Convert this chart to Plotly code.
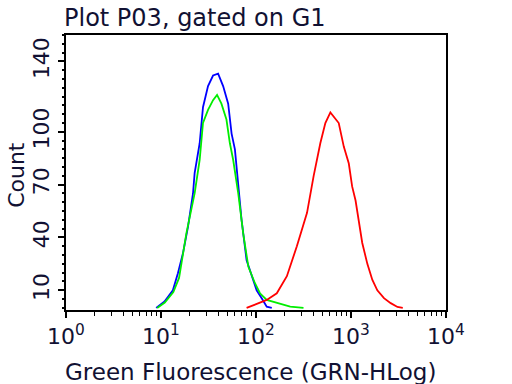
import plotly.graph_objects as go

# Blue histogram (log10 of fluorescence, count)
blue_log = [0.949, 1.037, 1.125, 1.178, 1.231, 1.284, 1.337, 1.354, 1.407, 1.442, 1.495, 1.548,
            1.601, 1.654, 1.707, 1.743, 1.778, 1.813, 1.848, 1.901, 1.954, 2.007, 2.06, 2.113, 2.166]
blue_cnt = [0, 3.6, 10, 19.7, 31, 46, 65, 76.5, 93.5, 114, 126, 132,
            133, 126, 116, 99, 90, 69, 50, 27, 18, 10, 5.5, 0.7, 0]

# Green histogram
green_log = [0.96, 1.04, 1.13, 1.19, 1.266, 1.354, 1.407, 1.442, 1.495, 1.548, 1.59, 1.636, 1.689,
             1.725, 1.76, 1.813, 1.866, 1.919, 1.989, 2.042, 2.113, 2.219, 2.36, 2.5]
green_cnt = [0, 3, 9, 17, 42, 65, 84, 105, 112.5, 118, 121, 116, 107,
             93.5, 84, 65, 42, 23.5, 14, 8.3, 4.5, 2.7, 0.7, 0]

# Red histogram
red_log = [1.901, 1.99, 2.113, 2.219, 2.325, 2.43, 2.537, 2.607, 2.677, 2.73, 2.783, 2.871, 2.924,
           2.977, 3.012, 3.048, 3.083, 3.118, 3.172, 3.224, 3.277, 3.347, 3.418, 3.489, 3.545]
red_cnt = [0, 1.7, 4.5, 8.3, 18, 35, 54, 75, 93.5, 105, 111, 105, 91.6,
           82, 69, 61, 48, 37, 25, 16, 10, 5.5, 2.7, 0.5, 0]

x_tick_vals = [1, 10, 100, 1000, 10000]
x_tick_text = ["10<sup>0</sup>", "10<sup>1</sup>", "10<sup>2</sup>", "10<sup>3</sup>", "10<sup>4</sup>"]
y_tick_vals = [10, 40, 70, 100, 140]
y_tick_text = ["10", "40", "70", "100", "140"]

series = [
    ("blue", blue_log, blue_cnt, "#0000ff"),
    ("green", green_log, green_cnt, "#00ee00"),
    ("red", red_log, red_cnt, "#ff0000"),
]

fig = go.Figure()
for name, lx, cnt, col in series:
    fig.add_trace(go.Scatter(
        x=[10 ** v for v in lx], y=cnt, mode="lines", name=name,
        line=dict(color=col, width=1.8), showlegend=False,
    ))

minor_x = [m * 10 ** k for k in range(0, 4) for m in range(2, 10)]

fig.update_layout(
    width=512, height=384,
    margin=dict(l=66, r=66, t=35, b=74),
    paper_bgcolor="white", plot_bgcolor="white",
    font=dict(family="DejaVu Sans", color="#111133"),
    xaxis=dict(
        type="log", range=[0, 4],
        tickmode="array", tickvals=x_tick_vals, ticktext=x_tick_text,
        ticks="outside", ticklen=6, tickwidth=1.5, tickcolor="black",
        minor=dict(tickmode="array", tickvals=minor_x, ticks="outside", ticklen=4,
                   tickwidth=1.2, tickcolor="black"),
        showline=True, linecolor="black", linewidth=1.5, mirror=True,
        showgrid=False, zeroline=False,
        tickfont=dict(size=22, color="#111133"),
    ),
    yaxis=dict(
        range=[-1.2, 155],
        tickmode="array", tickvals=y_tick_vals, ticktext=y_tick_text,
        ticks="outside", ticklen=6, tickwidth=1.5, tickcolor="black",
        minor=dict(tickmode="linear", tick0=0, dtick=5, ticks="outside", ticklen=2,
                   tickwidth=1.5, tickcolor="black"),
        showline=True, linecolor="black", linewidth=1.5, mirror=True,
        showgrid=False, zeroline=False, tickangle=-90,
        tickfont=dict(size=22, color="#111133"),
    ),
    annotations=[
        dict(text="Plot P03, gated on G1", xref="paper", yref="paper",
             x=-0.011, y=1.06, xanchor="left", yanchor="middle", showarrow=False,
             font=dict(size=24, color="#111133")),
        dict(text="Green Fluorescence (GRN-HLog)", xref="paper", yref="paper",
             x=0.485, y=-0.225, xanchor="center", yanchor="middle", showarrow=False,
             font=dict(size=23, color="#111133")),
        dict(text="Count", xref="paper", yref="paper", textangle=-90,
             x=-0.13, y=0.49, xanchor="center", yanchor="middle", showarrow=False,
             font=dict(size=22, color="#111133")),
    ],
)

fig.write_html("out.html", config={"displayModeBar": False},
               post_script="document.body.style.margin='0';")
